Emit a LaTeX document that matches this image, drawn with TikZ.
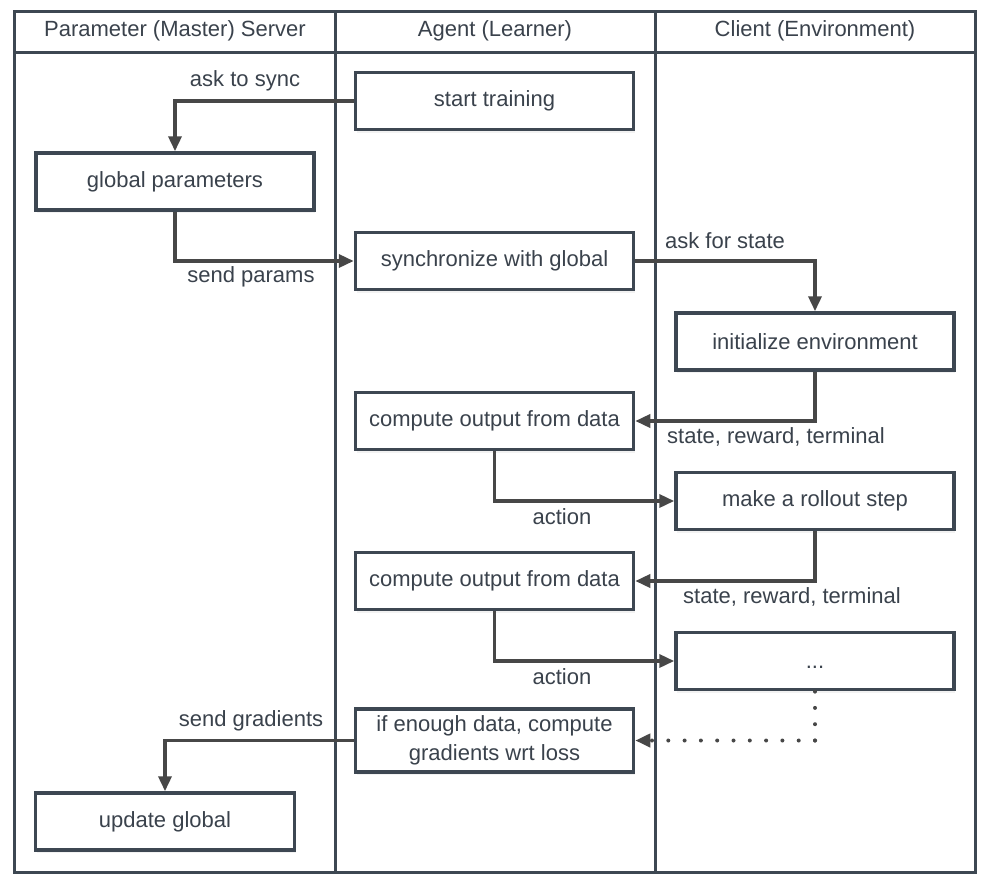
\documentclass[tikz,border=0pt]{standalone}
\usepackage{fontspec}
\setmainfont{Liberation Sans}
\usetikzlibrary{arrows.meta,shadows}
\definecolor{frame}{HTML}{3D4752}
\definecolor{arrowc}{HTML}{474747}
\definecolor{txt}{HTML}{3A424C}
\begin{document}
\begin{tikzpicture}[x=1pt,y=-1pt,
  font=\fontsize{22}{29}\selectfont, text=txt,
  box/.style={draw=frame, line width=3.5pt, fill=white, minimum width=278pt,
    minimum height=57pt, inner sep=0pt, align=center,
    drop shadow={opacity=0.10, shadow xshift=1pt, shadow yshift=-3pt}},
  lane/.style={draw=frame, line width=3pt},
  tip/.style={-{Triangle[length=15pt,width=13pt]}},
  conn/.style={draw=arrowc, line width=3.5pt, tip},
  lbl/.style={inner sep=0pt, anchor=center},
  dotline/.style={draw=arrowc, line width=4pt, line cap=round, dash pattern=on 0pt off 16.3pt}]
\useasboundingbox (0,0) rectangle (989,879);
\fill[white] (0,0) rectangle (989,879);
% swimlanes
\draw[lane] (14,11) rectangle (975,872);
\draw[lane] (14,52) -- (975,52);
\draw[lane] (335,11) -- (335,872);
\draw[lane] (655,11) -- (655,872);
\node[lbl] (h1) at (175,31) {Parameter (Master) Server};
\node[lbl] (h2) at (495,31) {Agent (Learner)};
\node[lbl] (h3) at (815,31) {Client (Environment)};
% boxes
\node[box] (start) at (494.5,101) {start training};
\node[box] (glob) at (175,181.5) {global parameters};
\node[box] (sync) at (494.5,261) {synchronize with global};
\node[box] (init) at (815,341.5) {initialize environment};
\node[box] (comp1) at (494.5,421) {compute output from data};
\node[box] (roll) at (815,501) {make a rollout step};
\node[box] (comp2) at (494.5,581) {compute output from data};
\node[box] (dots) at (815,661) {\raisebox{0pt}[14pt][0pt]{...}};
\node[box, minimum height=63pt] (grad) at (494.5,740.5) {if enough data, compute\\gradients wrt loss};
\node[box, minimum width=259pt] (upd) at (165,821.5) {update global};
% connectors
\draw[conn] (start.west) -| (glob.north);
\draw[conn] (glob.south) |- (sync.west);
\draw[conn] (sync.east) -| (init.north);
\draw[conn] (init.south) |- (comp1.east);
\draw[conn] (comp1.south) |- (roll.west);
\draw[conn] (roll.south) |- (comp2.east);
\draw[conn] (comp2.south) |- (dots.west);
\coordinate (dc) at (dots.south |- grad.east);
\draw[dotline] (dc) -- (dots.south);
\draw[dotline, tip] (dc) -- (grad.east);
\draw[conn] (grad.west) -| (upd.north);
% labels
\node[lbl] (l1) at (245,81) {ask to sync};
\node[lbl] (l2) at (251,277) {send params};
\node[lbl] (l3) at (725,241) {ask for state};
\node[lbl] (l4) at (776,437) {state, reward, terminal};
\node[lbl] (l5) at (562,517) {action};
\node[lbl] (l6) at (792,597) {state, reward, terminal};
\node[lbl] (l7) at (562,677) {action};
\node[lbl] (l8) at (251,721) {send gradients};
\end{tikzpicture}
\end{document}
